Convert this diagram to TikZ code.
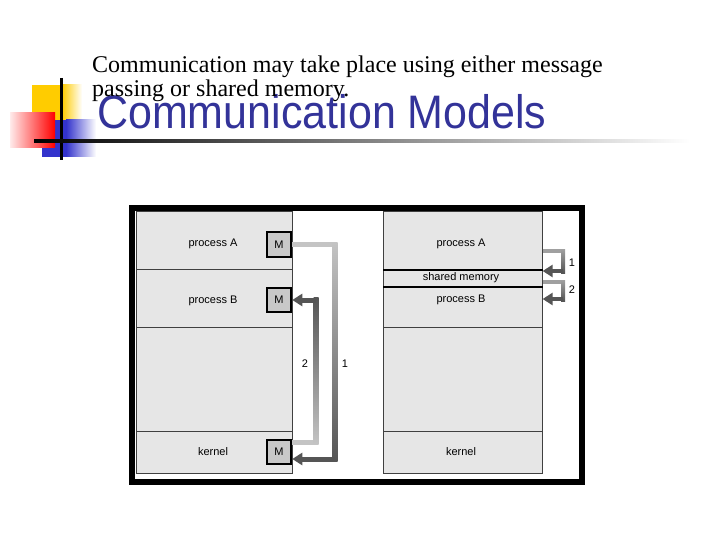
\documentclass[tikz,border=0pt]{standalone}
\usepackage{fontspec}
\setmainfont{Liberation Serif}
\setsansfont{Liberation Sans}
\usetikzlibrary{arrows.meta,calc}
\definecolor{titleblue}{HTML}{333399}
\definecolor{panelgray}{HTML}{E6E6E6}
\definecolor{mboxgray}{HTML}{C8C8C8}
\definecolor{logoyellow}{HTML}{FFCC00}
\definecolor{logoblue}{HTML}{3333CC}
\definecolor{arrowlight}{HTML}{C4C4C4}
\definecolor{arrowmid}{HTML}{A0A0A0}
\definecolor{arrowdark}{HTML}{555555}
\begin{document}
\begin{tikzpicture}[x=1pt,y=-1pt,
    titletext/.style={anchor=base west, inner sep=0pt, text=titleblue,
      font=\sffamily\fontsize{47}{50}\selectfont},
    subtext/.style={anchor=base west, inner sep=0pt,
      font=\fontsize{24}{26}\selectfont},
    lrow/.style={draw=black!75, line width=0.6pt, fill=panelgray,
      anchor=north west, inner sep=0pt, minimum width=156pt},
    rrow/.style={lrow, minimum width=159pt},
    mbox/.style={draw=black, line width=2pt, fill=mboxgray, inner sep=0pt,
      minimum size=24.5pt, font=\sffamily\fontsize{11}{13}\selectfont},
    lbl/.style={inner sep=0pt, font=\sffamily\fontsize{11}{13}\selectfont},
    pipe/.style={line width=5pt},
    thinpipe/.style={line width=4pt},
    msghead/.style={-{Triangle[length=10pt,width=12pt]}}]
    \useasboundingbox (0,0) rectangle (720,540);

    \path[fill=logoyellow] (32,85) rectangle (62,121);
    \shade[left color=logoyellow, right color=white] (62,85) rectangle (82,121);
    \path[fill=logoblue] (42,120) rectangle (66,157);
    \shade[left color=logoblue, right color=white] (66,120) rectangle (96,157);
    \shade[left color=red!8, right color=red] (10,113) rectangle (55,148);
    \path[draw, line width=3pt] (61,78) -- (61,160);
    \shade[left color=black, middle color=gray!80, right color=white] (34,139.5) rectangle (690,142.5);

    \node[titletext] (title) at (97,129) {\scalebox{0.915}[1]{Communication Models}};
    \node[subtext] (sub1) at (92,73) {Communication may take place using either message};
    \node[subtext] (sub2) at (92,97) {passing or shared memory.};

    \path[draw, line width=6pt] (132,208) rectangle (581.5,481.5);

    \node[lrow, minimum height=58pt] (lA) at (136,211) {};
    \node[lrow, minimum height=58pt] (lB) at (136,269) {};
    \node[lrow, minimum height=104pt] (lE) at (136,327) {};
    \node[lrow, minimum height=42pt] (lK) at (136,431) {};
    \node[lbl] (tlA) at (213,244) {process A};
    \node[lbl] (tlB) at (213,301) {process B};
    \node[lbl] (tlK) at (213,452) {kernel};
    \node[mbox] (mA) at (279,244.5) {M};
    \node[mbox] (mB) at (279,300) {M};
    \node[mbox] (mK) at (279,452) {M};

    \node[rrow, minimum height=59pt] (rA) at (383,211) {};
    \node[rrow, minimum height=16pt] (rS) at (383,270) {};
    \node[rrow, minimum height=41pt] (rB) at (383,286) {};
    \node[rrow, minimum height=104pt] (rE) at (383,327) {};
    \node[rrow, minimum height=42pt] (rK) at (383,431) {};
    \path[draw, line width=1.8pt] (rS.north west) -- (rS.north east);
    \path[draw, line width=1.8pt] (rS.south west) -- (rS.south east);
    \node[lbl] (trA) at (461,244) {process A};
    \node[lbl] (trS) at (461,278) {shared memory};
    \node[lbl] (trB) at (461,300) {process B};
    \node[lbl] (trK) at (461,452) {kernel};

    \coordinate (p1a) at (335,244.5);
    \coordinate (p1b) at (335,459);
    \path[draw, pipe, arrowlight] (mA.east) -- (p1a);
    \shade[top color=arrowlight, bottom color=arrowdark] ($(p1a)+(-2.5,-2.5)$) rectangle ($(p1b)+(2.5,2.5)$);
    \path[draw, pipe, arrowdark, msghead] (p1b) -- (p1b -| mK.east);

    \coordinate (p2a) at (316,442);
    \coordinate (p2b) at (316,300);
    \path[draw, pipe, arrowlight] (p2a -| mK.east) -- (p2a);
    \shade[top color=arrowdark, bottom color=arrowlight] ($(p2b)+(-2.5,-2.5)$) rectangle ($(p2a)+(2.5,2.5)$);
    \path[draw, pipe, arrowdark, msghead] (p2b) -- (mB.east);

    \node[lbl] (n2l) at (305,364) {2};
    \node[lbl] (n1l) at (345,364) {1};

    \coordinate (q1a) at (563,251);
    \coordinate (q1b) at (563,271);
    \path[draw, thinpipe, arrowmid] (q1a -| rA.east) -- (q1a);
    \shade[top color=arrowmid, bottom color=arrowdark] ($(q1a)+(-2,-2)$) rectangle ($(q1b)+(2,2)$);
    \path[draw, thinpipe, arrowdark, msghead] (q1b) -- (q1b -| rA.east);

    \coordinate (q2a) at (563,282);
    \coordinate (q2b) at (563,299);
    \path[draw, thinpipe, arrowmid] (q2a -| rS.east) -- (q2a);
    \shade[top color=arrowmid, bottom color=arrowdark] ($(q2a)+(-2,-2)$) rectangle ($(q2b)+(2,2)$);
    \path[draw, thinpipe, arrowdark, msghead] (q2b) -- (q2b -| rB.east);

    \node[lbl] (n1r) at (572,263) {1};
    \node[lbl] (n2r) at (572,290) {2};
  \end{tikzpicture}
\end{document}
